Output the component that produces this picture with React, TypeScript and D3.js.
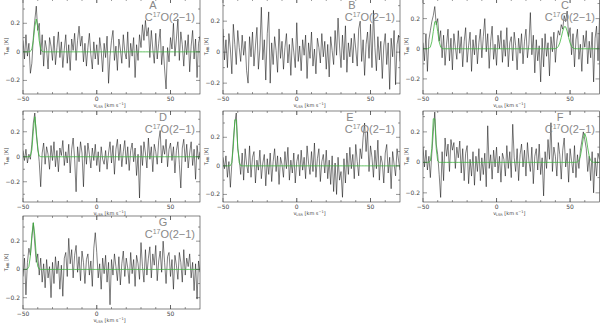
import React from "react";
import { scaleLinear, line, range } from "d3";

// channel grid of the spectra (km/s)
const velocityStart = -50;
const channelWidth = 1;

// T_MB [K], one value per channel
const specA = [
  0.08, -0.05, 0.12, -0.03, 0.06, -0.15, -0.08, 0.1, 0.22, 0.32, 0.15, 0.2, -0.02, 0.12, -0.1, 0.08, 0.02, -0.12, 0.1, 0.04,
  -0.06, 0.11, -0.09, 0.03, 0.14, -0.04, 0.07, -0.11, 0.02, 0.12, -0.08, 0.05, -0.13, 0.09, 0.01, 0.13, -0.06, 0.08, 0.18, 0.04,
  0.11, -0.07, 0.06, -0.1, 0.03, 0.13, -0.02, -0.12, 0.07, -0.05, 0.05, -0.09, 0.1, 0.01, -0.14, 0.06, -0.04, 0.11, -0.22, -0.03,
  0.08, 0.15, -0.06, 0.04, -0.13, 0.09, 0.02, -0.08, 0.12, 0.0, -0.05, 0.14, -0.11, 0.06, -0.03, 0.1, -0.18, 0.05, -0.06, 0.12,
  0.03, 0.19, 0.08, 0.22, 0.11, 0.17, -0.04, 0.15, 0.02, -0.08, 0.13, -0.05, 0.06, 0.16, -0.09, 0.04, -0.12, -0.26, 0.03, -0.07,
  0.1, 0.02, 0.2, -0.03, 0.09, 0.23, -0.06, 0.14, 0.05, -0.1, 0.08, -0.02, 0.12, -0.14, 0.04, 0.15, -0.05, 0.09, -0.18, 0.06,
  0.11,
];
const specB = [
  0.15, -0.05, 0.08, -0.1, 0.12, 0.02, -0.14, 0.18, 0.05, -0.08, 0.14, 0.03, -0.06, 0.11, -0.02, 0.07, -0.12, -0.2, 0.1, -0.03,
  0.13, -0.09, 0.04, 0.16, -0.11, 0.02, 0.29, -0.05, 0.08, -0.18, 0.12, 0.26, -0.2, 0.06, -0.08, 0.1, 0.01, -0.13, 0.15, -0.04,
  0.07, -0.11, 0.03, 0.12, -0.07, 0.05, -0.15, 0.09, 0.0, -0.1, 0.19, -0.06, 0.04, -0.12, 0.08, -0.02, 0.11, -0.17, 0.06, -0.04,
  0.13, -0.09, 0.02, -0.14, 0.09, 0.03, -0.07, 0.12, -0.03, 0.07, -0.11, 0.05, -0.16, 0.1, 0.01, -0.08, 0.14, -0.02, 0.22, 0.04,
  -0.1, 0.11, -0.05, 0.17, -0.13, 0.06, -0.03, 0.09, -0.07, 0.12, 0.02, -0.09, 0.15, 0.2, -0.06, 0.08, -0.15, 0.05, 0.13, -0.04,
  0.18, -0.1, 0.27, 0.03, -0.12, 0.1, -0.05, 0.07, -0.17, 0.04, 0.12, -0.08, 0.06, -0.24, 0.09, -0.03, 0.14, -0.21, 0.05, 0.11,
  -0.06,
];
const specC = [
  0.04, -0.08, 0.1, -0.15, 0.06, 0.12, 0.18, 0.22, 0.28, 0.16, 0.2, 0.05, 0.12, -0.06, 0.09, -0.11, 0.03, 0.13, -0.08, 0.07,
  -0.14, 0.1, 0.01, -0.07, 0.12, -0.03, 0.08, -0.12, 0.05, 0.14, -0.09, 0.02, 0.11, -0.15, 0.06, -0.04, 0.09, -0.1, 0.04, 0.13,
  -0.06, 0.08, 0.2, -0.02, 0.1, -0.13, 0.05, 0.15, -0.07, 0.03, -0.11, 0.09, 0.0, 0.12, -0.09, 0.06, -0.05, 0.14, -0.12, 0.04,
  0.08, -0.08, 0.11, 0.02, -0.14, 0.07, -0.03, 0.1, -0.1, 0.05, 0.13, -0.06, 0.03, 0.24, -0.04, 0.09, -0.16, 0.06, -0.08, 0.02,
  -0.22, 0.07, -0.12, 0.1, -0.05, 0.04, -0.18, 0.08, -0.02, 0.11, -0.09, 0.05, 0.12, 0.09, 0.16, 0.13, 0.22, 0.18, 0.25, 0.08,
  0.14, -0.04, 0.1, -0.12, 0.06, 0.13, -0.07, 0.03, -0.15, 0.09, 0.01, 0.12, -0.1, 0.05, -0.06, 0.11, -0.22, 0.07, 0.15, -0.08,
  0.2,
];
const specD = [
  0.05, -0.03, 0.06, -0.05, 0.02, -0.02, 0.1, 0.27, 0.35, 0.18, 0.08, -0.04, -0.24, 0.03, 0.11, -0.06, 0.08, 0.02, -0.1, 0.09,
  -0.03, 0.12, -0.08, 0.05, -0.12, 0.07, 0.01, 0.13, -0.07, 0.04, -0.05, 0.1, -0.13, 0.06, 0.15, -0.02, -0.28, 0.08, -0.04, 0.12,
  0.03, -0.24, 0.09, -0.06, 0.11, 0.02, -0.09, 0.07, -0.03, 0.1, -0.07, 0.04, -0.12, 0.08, -0.02, -0.06, 0.05, -0.1, 0.03, 0.12,
  -0.05, 0.09, -0.14, 0.06, 0.14, -0.03, 0.1, -0.08, 0.04, 0.13, -0.06, 0.08, -0.11, 0.05, 0.11, -0.04, 0.07, -0.15, 0.02, -0.33,
  0.09, -0.07, 0.12, 0.03, -0.09, 0.15, -0.02, 0.08, -0.12, 0.1, 0.04, -0.06, 0.13, 0.21, -0.05, 0.09, 0.02, 0.14, -0.08, 0.06,
  0.11, -0.03, 0.08, -0.13, 0.05, 0.12, -0.06, -0.25, 0.07, 0.14, -0.04, 0.1, -0.09, 0.03, 0.12, -0.07, 0.06, -0.18, 0.09, -0.02,
  0.04,
];
const specE = [
  0.06, -0.02, 0.07, -0.08, 0.03, -0.15, 0.02, 0.18, 0.3, 0.37, 0.12, 0.05, -0.06, 0.09, -0.1, 0.12, 0.01, -0.05, 0.14, -0.08,
  0.06, 0.1, -0.12, 0.04, -0.03, 0.11, -0.09, 0.02, 0.08, -0.14, 0.05, -0.06, 0.09, -0.11, 0.03, 0.12, -0.04, 0.07, -0.13, 0.06,
  0.01, -0.08, 0.1, -0.02, 0.13, -0.1, 0.04, -0.05, 0.09, -0.12, 0.03, 0.08, -0.07, 0.11, -0.03, 0.06, -0.09, 0.14, 0.02, -0.06,
  0.1, -0.04, 0.16, -0.08, 0.05, 0.12, -0.11, 0.03, 0.08, -0.05, 0.11, -0.09, 0.04, -0.13, 0.07, -0.18, 0.02, -0.2, 0.06, -0.1,
  -0.04, -0.22, 0.05, -0.12, 0.09, -0.06, 0.13, -0.02, 0.08, -0.09, 0.15, 0.03, -0.07, 0.12, 0.05, 0.2, 0.3, 0.1, 0.24, -0.04,
  0.14, 0.06, -0.08, 0.11, -0.02, 0.18, -0.1, 0.07, 0.02, -0.12, 0.09, 0.15, -0.05, 0.06, -0.16, 0.1, 0.01, -0.07, 0.12, 0.04,
  -0.03,
];
const specF = [
  0.1, -0.03, 0.08, -0.05, 0.04, -0.1, 0.06, 0.2, 0.33, 0.12, 0.05, -0.08, -0.23, 0.07, -0.12, 0.16, 0.04, 0.12, -0.06, 0.15,
  0.08, 0.13, -0.04, 0.1, 0.03, 0.14, -0.07, 0.09, -0.12, 0.06, 0.11, -0.14, 0.02, -0.09, 0.07, -0.15, 0.04, -0.06, 0.09, -0.12,
  0.03, -0.08, 0.06, -0.16, 0.24, -0.04, 0.05, -0.11, 0.08, -0.03, 0.1, -0.07, 0.04, -0.13, 0.06, 0.02, -0.09, 0.11, -0.04, 0.07,
  -0.1, 0.25, 0.03, -0.06, 0.09, -0.12, 0.05, 0.12, -0.03, 0.08, -0.09, 0.13, 0.01, -0.06, 0.1, -0.14, 0.04, 0.09, -0.05, 0.12,
  -0.08, 0.03, -0.22, 0.07, -0.04, 0.15, 0.02, 0.26, -0.06, 0.1, 0.04, -0.09, 0.13, 0.05, -0.11, 0.08, 0.16, -0.03, 0.06, -0.13,
  0.09, 0.01, -0.07, 0.11, -0.1, 0.05, -0.04, 0.08, 0.14, 0.2, 0.15, 0.09, -0.06, 0.04, -0.12, 0.07, -0.2, 0.03, -0.09, 0.06,
  0.02,
];
const specG = [
  -0.05, 0.08, -0.18, 0.05, 0.15, 0.1, 0.22, 0.33, 0.18, 0.05, 0.11, -0.04, 0.08, -0.09, 0.04, -0.13, 0.07, -0.06, 0.02, -0.2,
  0.05, -0.1, 0.09, -0.03, 0.06, -0.14, 0.03, -0.19, 0.08, 0.12, -0.05, 0.22, 0.04, 0.14, -0.06, 0.1, 0.17, -0.02, 0.09, -0.08,
  0.13, 0.05, -0.1, 0.07, 0.11, -0.04, 0.06, -0.12, 0.15, 0.26, 0.12, -0.06, 0.04, -0.14, 0.08, -0.03, 0.1, -0.09, 0.05, -0.25,
  0.07, -0.04, 0.11, 0.02, -0.08, 0.09, -0.11, 0.04, 0.13, -0.05, 0.08, 0.01, -0.1, 0.12, -0.03, 0.07, -0.12, 0.1, 0.04, -0.07,
  0.19, 0.02, -0.09, 0.14, -0.04, 0.08, 0.16, -0.06, 0.11, 0.03, 0.17, -0.08, 0.06, 0.13, -0.02, 0.2, 0.05, -0.1, 0.09, 0.12,
  -0.05, 0.07, -0.14, 0.1, 0.03, -0.07, 0.12, 0.05, -0.09, 0.14, -0.04, 0.08, 0.02, 0.11, -0.06, 0.05, -0.15, 0.04, -0.21, 0.06,
  -0.02,
];

const spectra = [specA, specB, specC, specD, specE, specF, specG];
const panelNames = ["A", "B", "C", "D", "E", "F", "G"];

// gaussian fits: [centre km/s, peak K, FWHM km/s]
const fitA = [[-41, 0.23, 3.2]];
const fitB: number[][] = [];
const fitC = [[-41.5, 0.19, 3.5], [46.5, 0.15, 5]];
const fitD = [[-42, 0.32, 2.5]];
const fitE = [[-41.5, 0.36, 2.5]];
const fitF = [[-42.5, 0.33, 2.2], [60, 0.19, 4]];
const fitG = [[-43, 0.33, 3]];
const fits = [fitA, fitB, fitC, fitD, fitE, fitF, fitG];

// y-axis extent of each panel [min, max] in K
const yExtents = [
  [-0.295, 0.37],
  [-0.27, 0.343],
  [-0.3, 0.33],
  [-0.362, 0.366],
  [-0.253, 0.384],
  [-0.26, 0.337],
  [-0.28, 0.378],
];

const xDomain = [-50, 70];
const xTicks = [-50, 0, 50];
const xMinor = range(-40, 70, 10);
const yTicks = [-0.2, 0, 0.2];
const yMinor = [-0.3, -0.1, 0.1, 0.3];

// layout
const colX = [0, 200, 400];
const rowTop = [-1, 111, 216];
const rowBottom = [94, 202, 309];
const letterX = [153, 152, 165, 163, 150, 160, 163];

const fmt = (v: number) => (v === 0 ? "0" : (v < 0 ? "\u2212" : "") + String(Math.abs(v)));

function Panel({ idx }: { idx: number }) {
  const col = idx % 3;
  const row = Math.floor(idx / 3);
  const x0 = colX[col];
  const left = x0 + 23;
  const right = Math.min(x0 + 200, 599.5);
  const top = rowTop[row];
  const bottom = rowBottom[row];
  const [yLo, yHi] = yExtents[idx];

  const x = scaleLinear().domain(xDomain).range([left, right]);
  const y = scaleLinear().domain([yLo, yHi]).range([bottom, top]);

  const data = spectra[idx].map((t, i) => ({ v: velocityStart + i * channelWidth, t }));
  const fit = fits[idx];
  const fitData = fit.length
    ? data.map((d) => ({
        v: d.v,
        t: fit.reduce((s, [c, a, w]) => s + a * Math.exp((-4 * Math.LN2 * (d.v - c) ** 2) / (w * w)), 0),
      }))
    : [];

  const path = line<{ v: number; t: number }>()
    .x((d) => x(d.v))
    .y((d) => y(d.t));

  const clipId = `clip${idx}`;
  const tickCol = "#444";
  const yAll = [...yTicks, ...yMinor].filter((v) => v > yLo && v < yHi);

  return (
    <g>
      <defs>
        <clipPath id={clipId}>
          <rect x={left} y={top} width={right - left} height={bottom - top} />
        </clipPath>
      </defs>
      <g clipPath={`url(#${clipId})`}>
        <path d={path(data) ?? ""} fill="none" stroke="#000" strokeWidth={0.5} />
        {fitData.length > 0 && (
          <path d={path(fitData) ?? ""} fill="none" stroke="#3cb43c" strokeWidth={0.8} />
        )}
      </g>
      <rect x={left} y={top} width={right - left} height={bottom - top} fill="none" stroke="#333" strokeWidth={0.6} />
      {[...xTicks, ...xMinor].map((v, k) => (
        <g key={"xm" + k} stroke="#333" strokeWidth={0.5}>
          <line x1={x(v)} x2={x(v)} y1={bottom} y2={bottom - (xTicks.includes(v) ? 4 : 2)} />
          <line x1={x(v)} x2={x(v)} y1={top} y2={top + (xTicks.includes(v) ? 4 : 2)} />
        </g>
      ))}
      {xTicks.map((v) => (
        <text key={"xl" + v} x={x(v)} y={bottom + 7} fontSize={6} textAnchor="middle" fill={tickCol} fontFamily="DejaVu Sans">
          {fmt(v)}
        </text>
      ))}
      {yAll.map((v) => (
        <g key={"ym" + v} stroke="#333" strokeWidth={0.5}>
          <line x1={left} x2={left + (yTicks.includes(v) ? 4 : 2)} y1={y(v)} y2={y(v)} />
          <line x1={right} x2={right - (yTicks.includes(v) ? 4 : 2)} y1={y(v)} y2={y(v)} />
        </g>
      ))}
      {yTicks.map((v) => (
        <text key={"yl" + v} x={left - 3} y={y(v) + 2} fontSize={6} textAnchor="end" fill={tickCol} fontFamily="DejaVu Sans">
          {fmt(v)}
        </text>
      ))}
      <text x={(left + right) / 2 - 2} y={bottom + 12.5} fontSize={5} textAnchor="middle" fill={tickCol} fontFamily="DejaVu Sans">
        v<tspan fontSize={3.5} dy={1}>LSR</tspan>
        <tspan dy={-1}> [km s</tspan>
        <tspan fontSize={3.5} dy={-1.5}>−1</tspan>
        <tspan dy={1.5}>]</tspan>
      </text>
      <text
        transform={`translate(${x0 + 8},${(top + bottom) / 2}) rotate(-90)`}
        fontSize={5}
        textAnchor="middle"
        fill={tickCol}
        fontFamily="DejaVu Sans"
      >
        T<tspan fontSize={3.5} dy={1}>MB</tspan>
        <tspan dy={-1}> [K]</tspan>
      </text>
      <text x={x0 + letterX[idx]} y={top + 9.5} fontSize={11} textAnchor="middle" fill="#888" fontFamily="Liberation Sans">
        {panelNames[idx]}
      </text>
      <text x={x0 + 195} y={top + 22} fontSize={11} textAnchor="end" fill="#888" fontFamily="Liberation Sans">
        C<tspan fontSize={7} dy={-4.5}>17</tspan>
        <tspan dy={4.5}>O(2</tspan>
        <tspan>−</tspan>
        <tspan>1)</tspan>
      </text>
    </g>
  );
}

export default function App() {
  return (
    <svg width={600} height={325} style={{ position: "absolute", left: 0, top: 0, background: "#fff" }}>
      {spectra.map((_, i) => (
        <Panel key={i} idx={i} />
      ))}
    </svg>
  );
}
